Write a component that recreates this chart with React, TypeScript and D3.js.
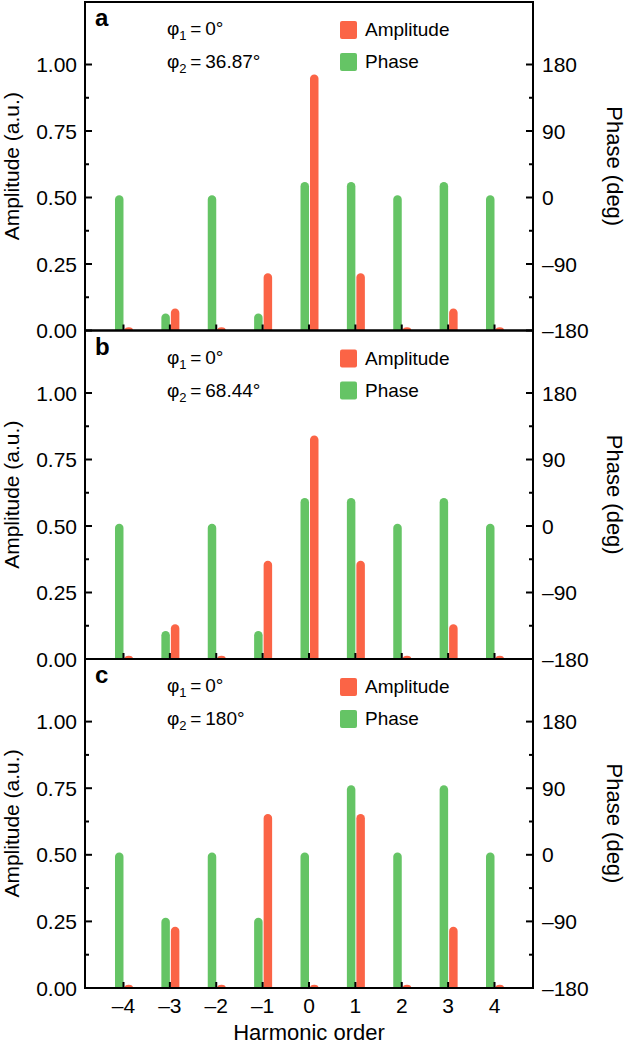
import React from "react";
import * as d3 from "d3";

const orders = [-4, -3, -2, -1, 0, 1, 2, 3, 4];
const ampA = [0.012, 0.083, 0.012, 0.215, 0.962, 0.215, 0.012, 0.083, 0.012];
const phaseA = [3, -157, 3, -157, 21, 21, 3, 21, 3];
const ampB = [0.012, 0.131, 0.012, 0.369, 0.84, 0.369, 0.012, 0.131, 0.012];
const phaseB = [3, -142, 3, -142, 38, 38, 3, 38, 3];
const ampC = [0.012, 0.23, 0.012, 0.653, 0.012, 0.653, 0.012, 0.23, 0.012];
const phaseC = [3, -85, 3, -85, 3, 94, 3, 94, 3];
const panelLetters = ["a", "b", "c"];
const phi2Labels = ["36.87°", "68.44°", "180°"];
const ampTicks = [0, 0.25, 0.5, 0.75, 1.0];
const ampMinor = [0.125, 0.375, 0.625, 0.875];
const phaseTicks = [-180, -90, 0, 90, 180];
const phaseMinor = [-135, -45, 45, 135];

const RED = "#fb6446";
const GREEN = "#65c465";
const FONT = "'Liberation Sans', Arial, Helvetica, sans-serif";

const W = 628;
const H = 1044;
const LEFT = 85;
const RIGHT = 533;
const panelTops = [2, 330.5, 659];
const panelBottoms = [330.5, 659, 988];
const AMP_MAX = 1.235;

const x = d3.scaleLinear().domain([-4.83, 4.83]).range([LEFT, RIGHT]);

function barPath(x0: number, w: number, yBase: number, yTop: number) {
  const h = yBase - yTop;
  const r = w / 2;
  if (h <= 0) return "";
  if (h < r) {
    return `M${x0},${yBase} A${r},${h} 0 0 1 ${x0 + w},${yBase} Z`;
  }
  return `M${x0},${yBase} L${x0},${yTop + r} A${r},${r} 0 0 1 ${x0 + w},${yTop + r} L${x0 + w},${yBase} Z`;
}

function fmtMinus(v: number) {
  return v < 0 ? "\u2013" + Math.abs(v) : String(v);
}

function Panel({ idx, amp, phase, showX }: { idx: number; amp: number[]; phase: number[]; showX: boolean }) {
  const top = panelTops[idx];
  const bottom = panelBottoms[idx];
  const y = d3.scaleLinear().domain([0, AMP_MAX]).range([bottom, top]);
  const yp = d3.scaleLinear().domain([-180, -180 + AMP_MAX * 360]).range([bottom, top]);
  const bw = 8.5;
  return (
    <g>
      {orders.map((o, i) => (
        <path key={"g" + o} d={barPath(x(o) - bw, bw, bottom, yp(phase[i]))} fill={GREEN} />
      ))}
      {orders.map((o, i) => (
        <path key={"r" + o} d={barPath(x(o) + 1, bw, bottom, y(amp[i]))} fill={RED} />
      ))}
      <rect x={LEFT} y={top} width={RIGHT - LEFT} height={bottom - top} fill="none" stroke="#000" strokeWidth={2} />
      {orders.map((o) => (
        <line key={"xt" + o} x1={x(o)} x2={x(o)} y1={bottom} y2={bottom - 6} stroke="#000" strokeWidth={2} />
      ))}
      {ampTicks.map((t) => (
        <g key={"lt" + t}>
          <line x1={LEFT} x2={LEFT + 7} y1={y(t)} y2={y(t)} stroke="#000" strokeWidth={2} />
          <text x={77} y={y(t) + 7.5} textAnchor="end" fontSize={21} fontFamily={FONT}>
            {t.toFixed(2)}
          </text>
        </g>
      ))}
      {ampMinor.map((t) => (
        <line key={"lm" + t} x1={LEFT} x2={LEFT + 4} y1={y(t)} y2={y(t)} stroke="#000" strokeWidth={2} />
      ))}
      {phaseTicks.map((t) => (
        <g key={"rt" + t}>
          <line x1={RIGHT} x2={RIGHT - 7} y1={yp(t)} y2={yp(t)} stroke="#000" strokeWidth={2} />
          <text x={542} y={yp(t) + 7.5} textAnchor="start" fontSize={21} fontFamily={FONT}>
            {fmtMinus(t)}
          </text>
        </g>
      ))}
      {phaseMinor.map((t) => (
        <line key={"rm" + t} x1={RIGHT} x2={RIGHT - 4} y1={yp(t)} y2={yp(t)} stroke="#000" strokeWidth={2} />
      ))}
      <text x={95} y={top + 24} fontSize={24} fontWeight="bold" fontFamily={FONT}>
        {panelLetters[idx]}
      </text>
      <text x={167} y={top + 33} fontSize={19} fontFamily={FONT}>
        <tspan>φ</tspan>
        <tspan fontSize={13} dy={5}>1</tspan>
        <tspan dy={-5}>{"\u2009=\u20090°"}</tspan>
      </text>
      <text x={167} y={top + 66} fontSize={19} fontFamily={FONT}>
        <tspan>φ</tspan>
        <tspan fontSize={13} dy={5}>2</tspan>
        <tspan dy={-5}>{"\u2009=\u2009" + phi2Labels[idx]}</tspan>
      </text>
      <rect x={340} y={top + 19} width={17} height={18} rx={2} fill={RED} />
      <text x={365} y={top + 34} fontSize={19} fontFamily={FONT}>Amplitude</text>
      <rect x={340} y={top + 51} width={17} height={18} rx={2} fill={GREEN} />
      <text x={365} y={top + 66} fontSize={19} fontFamily={FONT}>Phase</text>
      <text
        transform={`translate(19,${(top + bottom) / 2}) rotate(-90)`}
        textAnchor="middle"
        fontSize={21}
        fontFamily={FONT}
      >
        Amplitude (a.u.)
      </text>
      <text
        transform={`translate(607,${(top + bottom) / 2}) rotate(90)`}
        textAnchor="middle"
        fontSize={22}
        fontFamily={FONT}
      >
        Phase (deg)
      </text>
      {showX &&
        orders.map((o) => (
          <text key={"xl" + o} x={x(o)} y={bottom + 25} textAnchor="middle" fontSize={21} fontFamily={FONT}>
            {fmtMinus(o)}
          </text>
        ))}
      {showX && (
        <text x={(LEFT + RIGHT) / 2} y={1040} textAnchor="middle" fontSize={22} fontFamily={FONT}>
          Harmonic order
        </text>
      )}
    </g>
  );
}

export default function App() {
  return (
    <svg
      width={W}
      height={H}
      viewBox={`0 0 ${W} ${H}`}
      style={{ position: "absolute", left: 0, top: 0, background: "#fff" }}
    >
      <rect x={0} y={0} width={W} height={H} fill="#fff" />
      <Panel idx={0} amp={ampA} phase={phaseA} showX={false} />
      <Panel idx={1} amp={ampB} phase={phaseB} showX={false} />
      <Panel idx={2} amp={ampC} phase={phaseC} showX={true} />
    </svg>
  );
}
